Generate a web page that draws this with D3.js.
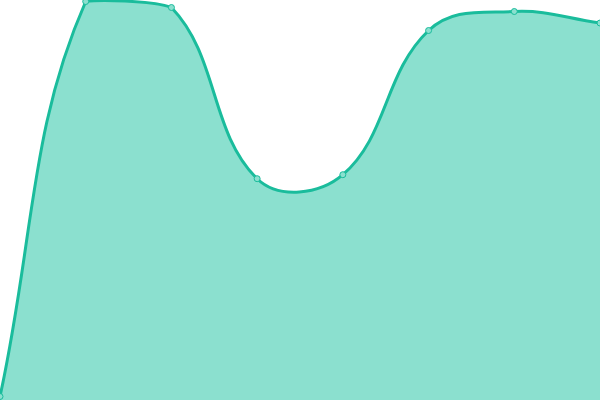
<!DOCTYPE html>
<html><head><meta charset="utf-8">
<script src="https://cdn.jsdelivr.net/npm/d3@7"></script>
<style>html,body{margin:0;padding:0;background:#fff;}svg{display:block;}</style>
</head><body>
<svg id="c" width="600" height="400"></svg>
<script>
const categories = [0, 1, 2, 3, 4, 5, 6, 7];
const values = [3.5, 398.5, 392.5, 221.3, 225.3, 369.5, 388.5, 377];
const tension = 0.4;

const W = 600, H = 400;
const svg = d3.select("#c");
const x = d3.scaleLinear().domain([0, categories.length - 1]).range([0, W]);
const y = d3.scaleLinear().domain([0, 400]).range([H, 0]);
const pts = categories.map((c, i) => ({c, v: values[i], x: x(c), y: y(values[i])}));

// spline control points (distance-weighted, capped to the plot area)
const clampX = v => Math.max(0, Math.min(W, v));
const clampY = v => Math.max(0, Math.min(H, v));
pts.forEach((p, i) => {
  const prev = pts[i - 1] || p, next = pts[i + 1] || p;
  const d01 = Math.hypot(p.x - prev.x, p.y - prev.y);
  const d12 = Math.hypot(next.x - p.x, next.y - p.y);
  let s01 = d01 / (d01 + d12), s12 = d12 / (d01 + d12);
  if (isNaN(s01)) s01 = 0; if (isNaN(s12)) s12 = 0;
  const fa = tension * s01, fb = tension * s12;
  p.cp1x = clampX(p.x - fa * (next.x - prev.x));
  p.cp1y = clampY(p.y - fa * (next.y - prev.y));
  p.cp2x = clampX(p.x + fb * (next.x - prev.x));
  p.cp2y = clampY(p.y + fb * (next.y - prev.y));
});

function linePath(ctx) {
  ctx.moveTo(pts[0].x, pts[0].y);
  for (let i = 1; i < pts.length; i++) {
    const a = pts[i - 1], b = pts[i];
    ctx.bezierCurveTo(a.cp2x, a.cp2y, b.cp1x, b.cp1y, b.x, b.y);
  }
  return ctx;
}
const lp = linePath(d3.path());
const ap = linePath(d3.path());
ap.lineTo(pts[pts.length - 1].x, y(0));
ap.lineTo(pts[0].x, y(0));
ap.closePath();

svg.append("path").attr("d", ap.toString()).attr("fill", "#8be0cf");
svg.append("path").attr("d", lp.toString()).attr("fill", "none")
  .attr("stroke", "#1abc9c").attr("stroke-width", 3);
svg.selectAll("circle").data(pts).join("circle")
  .attr("cx", d => d.x).attr("cy", d => d.y).attr("r", 3)
  .attr("fill", "#8be0cf").attr("stroke", "#1abc9c").attr("stroke-width", 1);
</script>
</body></html>
